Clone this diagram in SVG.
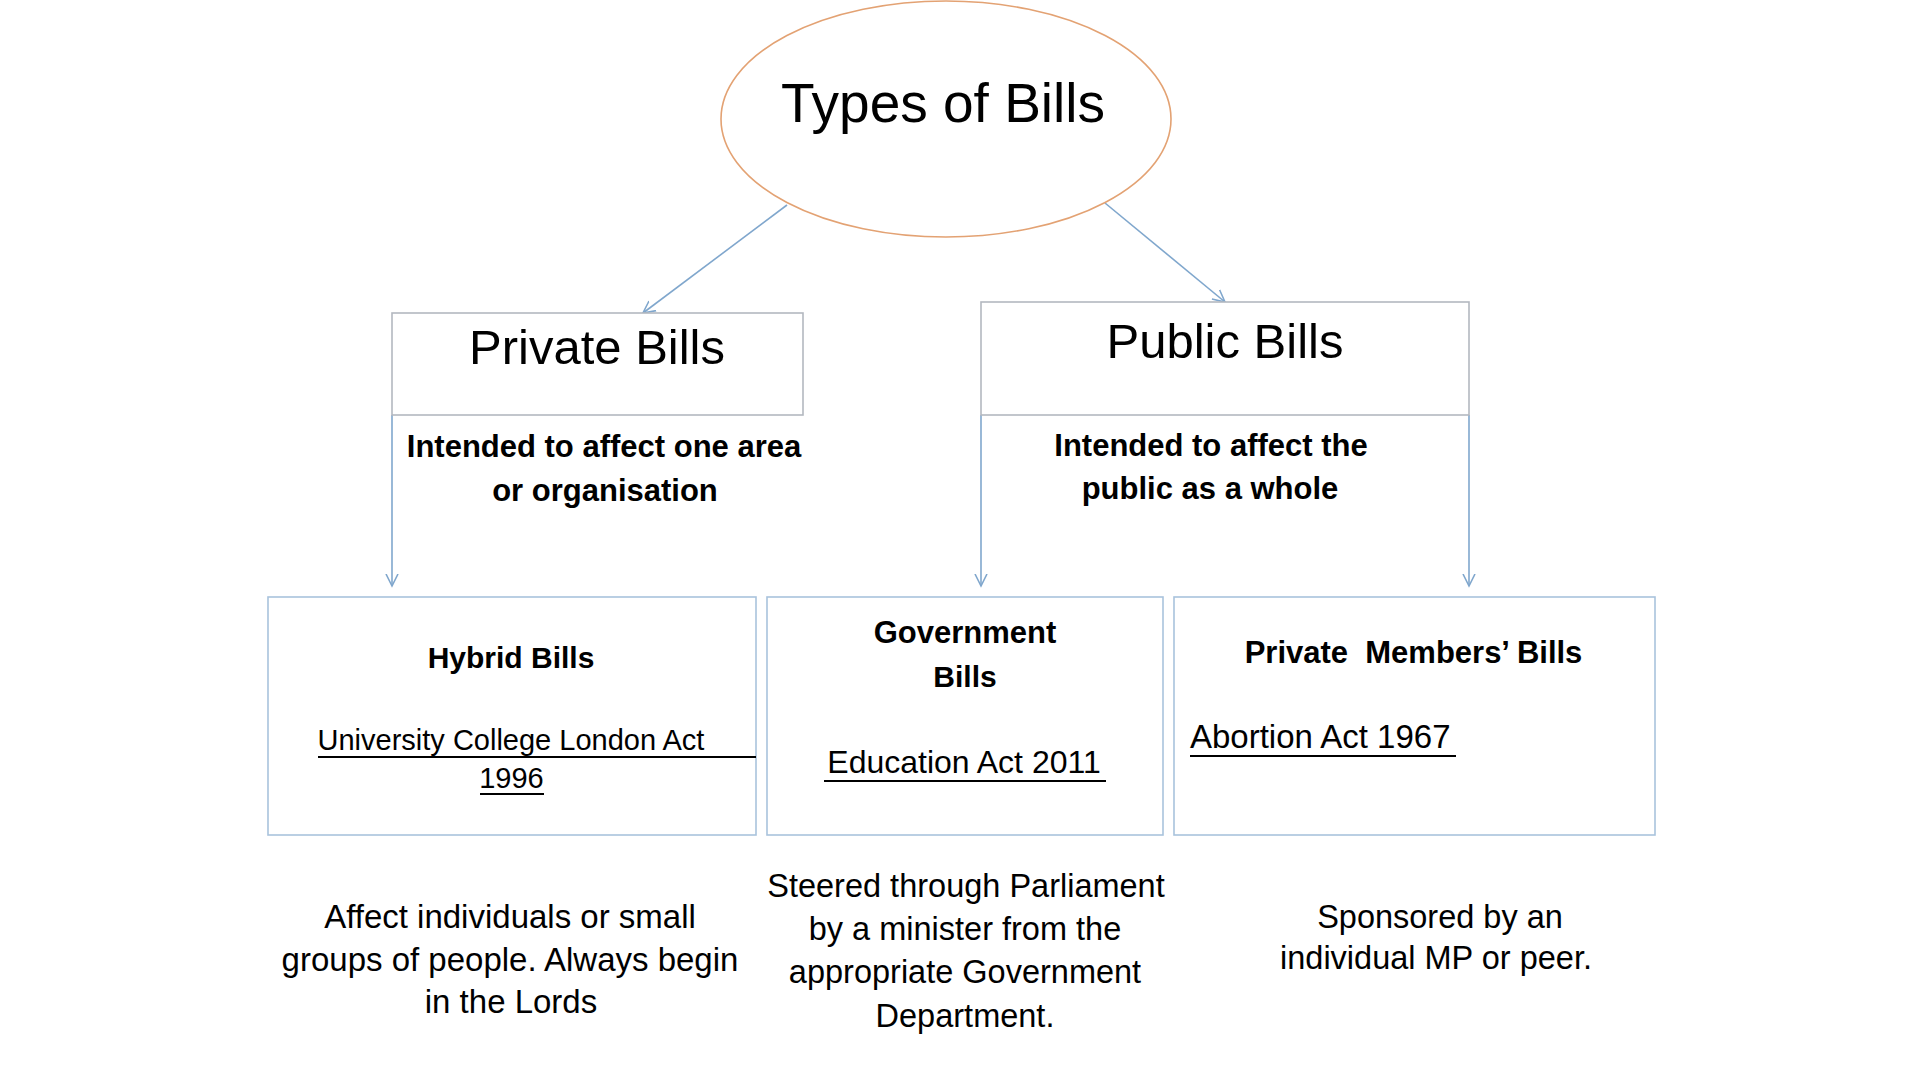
<svg xmlns="http://www.w3.org/2000/svg" width="1919" height="1080" viewBox="0 0 1919 1080">
<defs>
<style>
text{font-family:"Liberation Sans",Arial,Helvetica,sans-serif;fill:#000;text-anchor:middle}
.b{font-weight:bold}
.box{fill:#fff;stroke:#a9c3dd;stroke-width:1.6}
.hbox{fill:#fff;stroke:#b3b8c0;stroke-width:1.6}
.conn{stroke:#80a7cd;stroke-width:1.6;fill:none}
.ul{stroke:#000;stroke-width:2}
</style>
<marker id="arr" markerUnits="userSpaceOnUse" markerWidth="16" markerHeight="16" refX="12" refY="7" orient="auto" viewBox="0 0 16 14">
<path d="M0,1 L12,7 L0,13" fill="none" stroke="#80a7cd" stroke-width="1.6"/>
</marker>
</defs>
<rect width="1919" height="1080" fill="#fff"/>
<g id="connectors">
<line class="conn" x1="787" y1="205" x2="643" y2="313" marker-end="url(#arr)"/>
<line class="conn" x1="1105" y1="203" x2="1225" y2="302" marker-end="url(#arr)"/>
<line class="conn" x1="392" y1="415" x2="392" y2="586" marker-end="url(#arr)"/>
<line class="conn" x1="981" y1="415" x2="981" y2="586" marker-end="url(#arr)"/>
<line class="conn" x1="1469" y1="415" x2="1469" y2="586" marker-end="url(#arr)"/>
</g>
<g id="types-of-bills">
<ellipse cx="946" cy="119" rx="225" ry="118" fill="#fff" stroke="#e3a273" stroke-width="1.6"/>
<text x="943" y="122" font-size="55">Types of Bills</text>
</g>
<g id="private-bills">
<rect class="hbox" x="392" y="313" width="411" height="102"/>
<text x="597" y="364" font-size="49">Private Bills</text>
<text class="b" x="604" y="457" font-size="31">Intended to affect one area</text>
<text class="b" x="605" y="501" font-size="31">or organisation</text>
</g>
<g id="public-bills">
<rect class="hbox" x="981" y="302" width="488" height="113"/>
<text x="1225" y="358" font-size="49">Public Bills</text>
<text class="b" x="1211" y="456" font-size="31">Intended to affect the</text>
<text class="b" x="1210" y="499" font-size="31">public as a whole</text>
</g>
<g id="hybrid-bills">
<rect class="box" x="268" y="597" width="488" height="238"/>
<text class="b" x="511" y="668" font-size="30">Hybrid Bills</text>
<text x="511" y="750" font-size="29">University College London Act</text>
<line class="ul" x1="318" y1="757" x2="756" y2="757"/>
<text x="511.5" y="788" font-size="29">1996</text>
<line class="ul" x1="480" y1="794" x2="544" y2="794"/>
<text x="510" y="928" font-size="33">Affect individuals or small</text>
<text x="510" y="971" font-size="33">groups of people. Always begin</text>
<text x="511" y="1013" font-size="33">in the Lords</text>
</g>
<g id="government-bills">
<rect class="box" x="767" y="597" width="396" height="238"/>
<text class="b" x="965" y="643" font-size="31">Government</text>
<text class="b" x="965" y="687" font-size="30">Bills</text>
<text x="964" y="773" font-size="32">Education Act 2011</text>
<line class="ul" x1="824" y1="781" x2="1106" y2="781"/>
<text x="966" y="897" font-size="32.5">Steered through Parliament</text>
<text x="965" y="940" font-size="32.5">by a minister from the</text>
<text x="965" y="983" font-size="32.5">appropriate Government</text>
<text x="965" y="1027" font-size="32.5">Department.</text>
</g>
<g id="private-members-bills">
<rect class="box" x="1174" y="597" width="481" height="238"/>
<text class="b" x="1413.5" y="663" font-size="31" xml:space="preserve">Private  Members’ Bills</text>
<text x="1190" y="748" font-size="33" style="text-anchor:start">Abortion Act 1967</text>
<line class="ul" x1="1190" y1="756" x2="1456" y2="756"/>
<text x="1440" y="928" font-size="32.5">Sponsored by an</text>
<text x="1436" y="969" font-size="32.5">individual MP or peer.</text>
</g>
</svg>
